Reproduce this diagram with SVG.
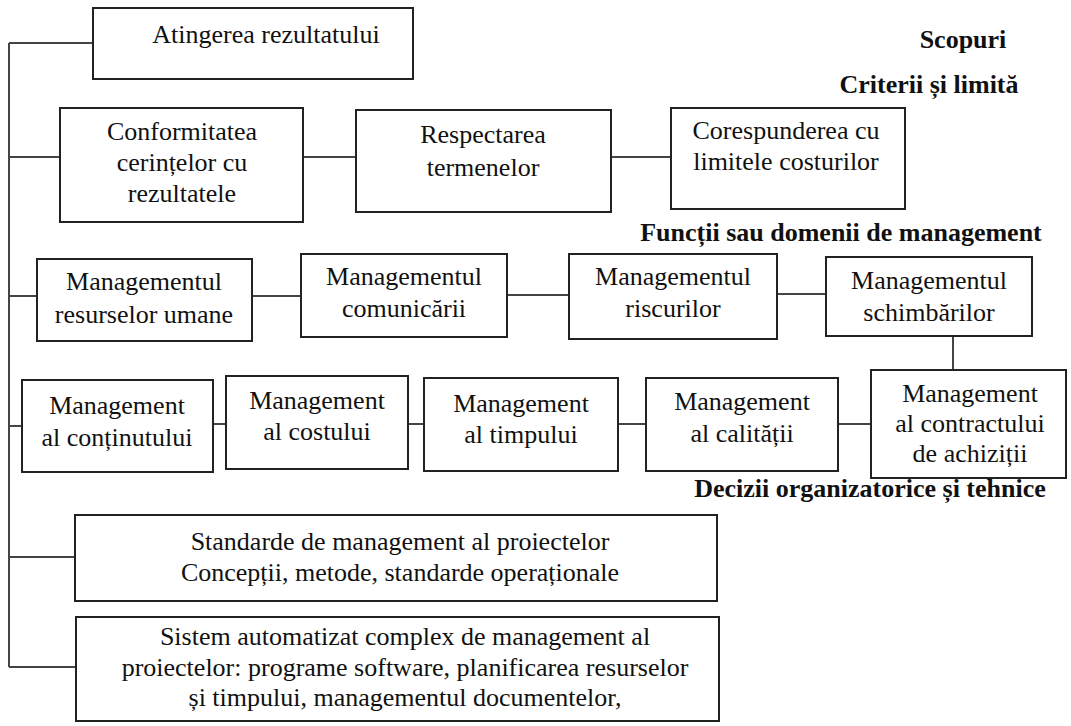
<svg xmlns="http://www.w3.org/2000/svg" width="1071" height="726" viewBox="0 0 1071 726">
<style>
.b{fill:#fff;stroke:#222;stroke-width:2}
.t{font-family:"Liberation Serif","Times New Roman",serif;font-size:26px;fill:#111;text-anchor:middle}
.h{font-family:"Liberation Serif","Times New Roman",serif;font-size:26px;font-weight:bold;fill:#111;text-anchor:middle}
.c{stroke:#444;stroke-width:2;fill:none}
</style>
<rect width="1071" height="726" fill="#fff"/>
<g id="connectors">
<path class="c" d="M9,43V667"/>
<path class="c" d="M9,43H93"/>
<path class="c" d="M9,157H60"/>
<path class="c" d="M303,157H356"/>
<path class="c" d="M611,157H671"/>
<path class="c" d="M9,296H37"/>
<path class="c" d="M252,296H301"/>
<path class="c" d="M507,295H569"/>
<path class="c" d="M777,294H826"/>
<path class="c" d="M953,336V370"/>
<path class="c" d="M9,426H22"/>
<path class="c" d="M213,424H226"/>
<path class="c" d="M408,424H424"/>
<path class="c" d="M618,424H645"/>
<path class="c" d="M838,424H871"/>
<path class="c" d="M9,557H75"/>
<path class="c" d="M9,667H76"/>
</g>
<g id="n1"><rect class="b" x="93" y="8" width="320" height="71"/><text class="t" x="266" y="43">Atingerea rezultatului</text></g>
<g id="lbl-scopuri"><text class="h" x="963" y="48">Scopuri</text></g>
<g id="lbl-criterii"><text class="h" x="929" y="93">Criterii și limită</text></g>
<g id="n2"><rect class="b" x="60" y="108" width="243" height="114"/><text class="t" x="182" y="140">Conformitatea</text><text class="t" x="182" y="171">cerințelor cu</text><text class="t" x="182" y="202">rezultatele</text></g>
<g id="n3"><rect class="b" x="356" y="110" width="255" height="102"/><text class="t" x="483" y="143">Respectarea</text><text class="t" x="483" y="176">termenelor</text></g>
<g id="n4"><rect class="b" x="671" y="108" width="234" height="101"/><text class="t" x="786" y="139">Corespunderea cu</text><text class="t" x="786" y="170">limitele costurilor</text></g>
<g id="lbl-functii"><text class="h" x="841" y="241">Funcții sau domenii de management</text></g>
<g id="n5"><rect class="b" x="37" y="259" width="215" height="82"/><text class="t" x="144" y="290">Managementul</text><text class="t" x="144" y="323">resurselor umane</text></g>
<g id="n6"><rect class="b" x="301" y="254" width="206" height="83"/><text class="t" x="404" y="285">Managementul</text><text class="t" x="404" y="317">comunicării</text></g>
<g id="n7"><rect class="b" x="569" y="254" width="208" height="85"/><text class="t" x="673" y="285">Managementul</text><text class="t" x="673" y="317">riscurilor</text></g>
<g id="n8"><rect class="b" x="826" y="257" width="206" height="79"/><text class="t" x="929" y="289">Managementul</text><text class="t" x="929" y="321">schimbărilor</text></g>
<g id="n9"><rect class="b" x="22" y="380" width="191" height="92"/><text class="t" x="117" y="414">Management</text><text class="t" x="117" y="446">al conținutului</text></g>
<g id="n10"><rect class="b" x="226" y="376" width="182" height="93"/><text class="t" x="317" y="409">Management</text><text class="t" x="317" y="440">al costului</text></g>
<g id="n11"><rect class="b" x="424" y="378" width="194" height="93"/><text class="t" x="521" y="412">Management</text><text class="t" x="521" y="443">al timpului</text></g>
<g id="n12"><rect class="b" x="646" y="378" width="192" height="93"/><text class="t" x="742" y="410">Management</text><text class="t" x="742" y="442">al calității</text></g>
<g id="n13"><rect class="b" x="871" y="370" width="195" height="108"/><text class="t" x="970" y="402">Management</text><text class="t" x="970" y="432">al contractului</text><text class="t" x="970" y="462">de achiziții</text></g>
<g id="lbl-decizii"><text class="h" x="870" y="497">Decizii organizatorice și tehnice</text></g>
<g id="n14"><rect class="b" x="75" y="515" width="642" height="86"/><text class="t" x="400" y="550">Standarde de management al proiectelor</text><text class="t" x="400" y="581">Concepții, metode, standarde operaționale</text></g>
<g id="n15"><rect class="b" x="76" y="617" width="643" height="104"/><text class="t" x="405" y="645">Sistem automatizat complex de management al</text><text class="t" x="405" y="676">proiectelor: programe software, planificarea resurselor</text><text class="t" x="405" y="706">și timpului, managementul documentelor,</text></g>
</svg>
